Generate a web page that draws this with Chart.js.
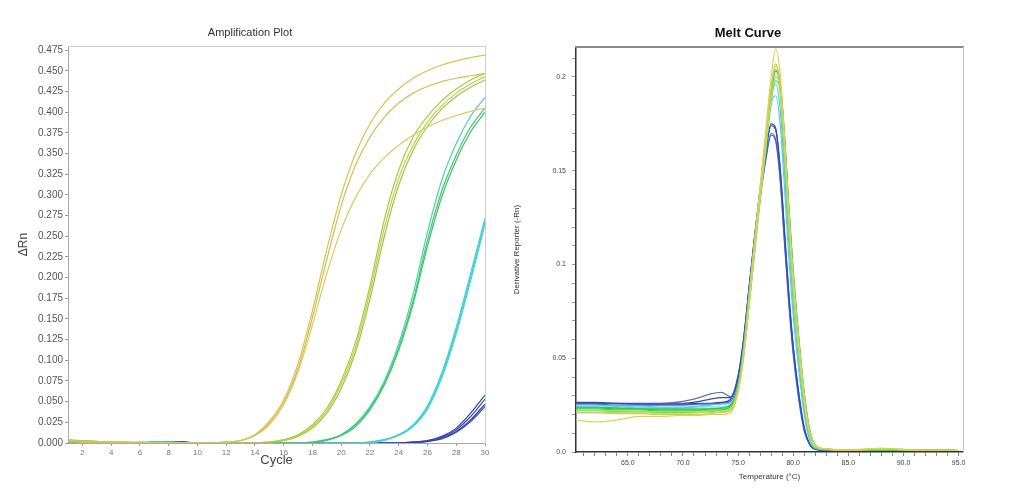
<!DOCTYPE html>
<html>
<head>
<meta charset="utf-8">
<title>Amplification Plot / Melt Curve</title>
<script src="https://cdn.jsdelivr.net/npm/chart.js@4.4.1/dist/chart.umd.min.js"></script>
<style>
  body { margin: 0; background: #fff; }
  #amp { position: absolute; left: 0; top: 0; width: 500px; height: 491px; }
  #melt { position: absolute; left: 480px; top: 0; width: 536px; height: 491px; }
</style>
</head>
<body>
<div id="amp"><canvas id="ampChart"></canvas></div>
<div id="melt"><canvas id="meltChart"></canvas></div>
<script>
// ---- amplification plot data (delta Rn per cycle)
const cycles = [1,2,3,4,5,6,7,8,9,10,11,12,13,14,15,16,17,18,19,20,21,22,23,24,25,26,27,28,29,30];

const ampY1 = [0.003,0.002,0.001,0.001,0.001,0.001,0,0,0,0,0,0.001,0.003,0.010,0.026,0.052,0.096,0.160,0.234,0.300,0.350,0.386,0.411,0.428,0.441,0.450,0.457,0.462,0.466,0.469];
const ampY2 = [0.002,0.002,0.001,0.001,0.001,0,0,0,0,0,0,0.001,0.003,0.009,0.024,0.049,0.090,0.152,0.222,0.287,0.336,0.370,0.394,0.411,0.423,0.431,0.437,0.441,0.444,0.447];
const ampY3 = [0.002,0.001,0.001,0.001,0,0,0,0,0,0,0,0.001,0.003,0.009,0.022,0.046,0.086,0.143,0.205,0.258,0.297,0.325,0.345,0.360,0.372,0.382,0.390,0.396,0.401,0.405];
const ampYG1 = [0.004,0.003,0.002,0.001,0.001,0,0,0,0,0,0,0,0,0,0.001,0.004,0.010,0.022,0.042,0.075,0.122,0.190,0.270,0.330,0.370,0.395,0.414,0.428,0.439,0.447];
const ampYG2 = [0.003,0.003,0.002,0.001,0.001,0,0,0,0,0,0,0,0,0,0.001,0.003,0.009,0.020,0.039,0.071,0.116,0.182,0.260,0.320,0.360,0.388,0.408,0.423,0.434,0.443];
const ampYG3 = [0.002,0.002,0.001,0.001,0,0,0,0,0,0,0,0,0,0,0.001,0.003,0.008,0.018,0.036,0.066,0.110,0.174,0.250,0.312,0.354,0.383,0.404,0.419,0.430,0.439];
const ampG1 = [0,0,0,0,0,0,0.001,0.001,0,0,0,0,0,0,0,0,0,0.001,0.004,0.010,0.022,0.042,0.072,0.115,0.172,0.245,0.305,0.348,0.382,0.405];
const ampG2 = [0,0,0,0,0,0,0.001,0,0,0,0,0,0,0,0,0,0,0.001,0.004,0.010,0.023,0.044,0.075,0.120,0.180,0.255,0.318,0.362,0.395,0.418];
const ampG3 = [0,0,0,0,0,0,0,0,0,0,0,0,0,0,0,0,0,0,0.003,0.009,0.020,0.040,0.070,0.112,0.168,0.238,0.298,0.342,0.376,0.400];
const ampC1 = [0,0,0,0,0,0.001,0.001,0.001,0,0,0,0,0,0,0,0,0,0,0,0,0,0.001,0.004,0.010,0.022,0.045,0.085,0.140,0.205,0.272];
const ampC2 = [0,0,0,0,0,0,0.001,0.001,0,0,0,0,0,0,0,0,0,0,0,0,0,0.001,0.004,0.010,0.021,0.043,0.082,0.136,0.200,0.268];
const ampC3 = [0,0,0,0,0,0,0,0.001,0,0,0,0,0,0,0,0,0,0,0,0,0,0,0.003,0.009,0.020,0.041,0.079,0.132,0.196,0.265];
const ampB1 = [0,0,0,0,0,0,0,0.001,0.001,0,0,0,0,0,0,0,0,0,0,0,0,0,0,0,0.001,0.003,0.008,0.018,0.036,0.058];
const ampB2 = [0,0,0,0,0,0,0,0.001,0.001,0,0,0,0,0,0,0,0,0,0,0,0,0,0,0,0.001,0.003,0.007,0.016,0.032,0.053];
const ampB3 = [0,0,0,0,0,0,0,0,0.001,0,0,0,0,0,0,0,0,0,0,0,0,0,0,0,0.001,0.002,0.006,0.014,0.028,0.047];
const ampB4 = [0,0,0,0,0,0,0,0,0.001,0,0,0,0,0,0,0,0,0,0,0,0,0,0,0,0,0.002,0.005,0.013,0.026,0.044];

// ---- melt curve data (derivative reporter per temperature)
const meltTemps = [60.3,62,64,66,68,70,71.5,72.5,73.5,74.3,75,75.5,76,76.5,77,77.5,78,78.4,78.8,79.2,79.6,80,80.5,81,81.5,82,83,85,88,91,95];

const meltY1 = [0.017,0.016,0.017,0.019,0.019,0.0195,0.0195,0.020,0.020,0.021,0.032,0.051,0.081,0.112,0.142,0.171,0.200,0.215,0.203,0.168,0.126,0.090,0.056,0.027,0.009,0.003,0.0015,0.0012,0.002,0.001,0.0008];
const meltY2 = [0.021,0.021,0.0205,0.0205,0.020,0.020,0.020,0.0205,0.021,0.022,0.033,0.052,0.080,0.110,0.139,0.167,0.194,0.206,0.196,0.163,0.123,0.089,0.056,0.028,0.010,0.003,0.0015,0.001,0.002,0.001,0.0008];
const meltYG1 = [0.022,0.022,0.022,0.0215,0.0215,0.0215,0.0215,0.022,0.022,0.023,0.034,0.053,0.082,0.111,0.140,0.168,0.195,0.207,0.197,0.164,0.124,0.090,0.057,0.029,0.010,0.003,0.0015,0.001,0.0015,0.001,0.0008];
const meltYG2 = [0.021,0.021,0.021,0.021,0.0205,0.0205,0.021,0.021,0.0215,0.022,0.032,0.050,0.078,0.107,0.135,0.162,0.188,0.200,0.195,0.166,0.128,0.094,0.060,0.031,0.011,0.004,0.0015,0.001,0.0015,0.001,0.0008];
const meltG1 = [0.023,0.023,0.0225,0.0225,0.022,0.022,0.022,0.0222,0.0225,0.024,0.035,0.054,0.083,0.112,0.140,0.166,0.192,0.204,0.194,0.160,0.120,0.087,0.055,0.027,0.009,0.003,0.0015,0.001,0.001,0.001,0.0008];
const meltG2 = [0.024,0.024,0.0235,0.023,0.023,0.023,0.023,0.023,0.0235,0.025,0.034,0.052,0.079,0.108,0.136,0.163,0.189,0.200,0.196,0.170,0.132,0.097,0.062,0.032,0.012,0.004,0.0015,0.001,0.001,0.001,0.0008];
const meltG3 = [0.022,0.022,0.0215,0.0215,0.021,0.021,0.021,0.0215,0.022,0.023,0.033,0.051,0.078,0.106,0.134,0.160,0.186,0.198,0.193,0.165,0.127,0.093,0.059,0.030,0.011,0.003,0.0015,0.001,0.001,0.001,0.0008];
const meltG4 = [0.0235,0.0235,0.023,0.023,0.0225,0.0225,0.0225,0.023,0.023,0.0245,0.035,0.053,0.081,0.110,0.138,0.165,0.191,0.203,0.198,0.170,0.130,0.095,0.060,0.030,0.011,0.003,0.0015,0.001,0.001,0.001,0.0008];
const meltC1 = [0.024,0.024,0.024,0.0235,0.0235,0.0235,0.024,0.024,0.024,0.025,0.035,0.055,0.084,0.113,0.141,0.166,0.190,0.196,0.184,0.150,0.111,0.079,0.048,0.022,0.007,0.002,0.0012,0.001,0.001,0.001,0.0008];
const meltC2 = [0.025,0.025,0.0245,0.0245,0.024,0.024,0.0245,0.025,0.0255,0.026,0.036,0.056,0.085,0.113,0.140,0.164,0.186,0.190,0.176,0.142,0.104,0.073,0.044,0.020,0.006,0.002,0.0012,0.001,0.001,0.001,0.0008];
const meltB1 = [0.026,0.026,0.026,0.0255,0.0255,0.0255,0.026,0.026,0.0265,0.028,0.040,0.060,0.088,0.115,0.140,0.160,0.174,0.172,0.152,0.118,0.084,0.056,0.031,0.013,0.004,0.0015,0.001,0.001,0.001,0.001,0.0008];
const meltB2 = [0.0255,0.0255,0.025,0.025,0.025,0.025,0.0255,0.0255,0.026,0.027,0.038,0.058,0.085,0.111,0.135,0.155,0.169,0.166,0.146,0.112,0.079,0.052,0.028,0.011,0.004,0.0015,0.001,0.001,0.001,0.001,0.0008];
const meltS1 = [0.026,0.026,0.0258,0.0256,0.0258,0.027,0.029,0.031,0.0318,0.0295,0.041,0.060,0.087,0.113,0.137,0.157,0.170,0.167,0.148,0.114,0.081,0.054,0.030,0.012,0.004,0.0015,0.001,0.001,0.001,0.001,0.0008];
const meltS2 = [0.0265,0.0265,0.026,0.026,0.026,0.026,0.027,0.0282,0.029,0.029,0.040,0.060,0.088,0.115,0.140,0.161,0.175,0.173,0.153,0.119,0.085,0.057,0.032,0.013,0.004,0.0015,0.001,0.001,0.001,0.001,0.0008];

Chart.defaults.font.family = "'Liberation Sans', Arial, sans-serif";
Chart.defaults.color = '#555';

// turn one series into a line dataset
const makeLine = function (xs, ys, color, width) {
  return {
    data: xs.map((x, i) => ({ x: x, y: ys[i] })),
    borderColor: color,
    borderWidth: width,
    pointRadius: 0,
    fill: false,
    cubicInterpolationMode: 'monotone',
  };
};

// a scale used only to draw a frame edge
const frameEdge = function (position, color, lineWidth, size) {
  return {
    type: 'linear',
    position: position,
    display: true,
    grid: { drawOnChartArea: false, drawTicks: false },
    ticks: { display: false },
    border: { display: true, color: color, width: lineWidth },
    afterFit: (s) => {
      if (position === 'top') s.height = size;
      else s.width = size;
    },
  };
};

// =============================================
// Amplification plot
const ampSeries = [
  [ampY1, '#d9c24e'], [ampY2, '#d4bc55'], [ampY3, '#dcc860'],
  [ampYG1, '#a9cc3e'], [ampYG2, '#b4d24a'], [ampYG3, '#9cc640'],
  [ampG1, '#3ec86e'], [ampG2, '#4ccfb4'], [ampG3, '#38c466'],
  [ampC1, '#3fd2d4'], [ampC2, '#44cad8'], [ampC3, '#3ad8cc'],
  [ampB1, '#3444b0'], [ampB2, '#3a4cb8'], [ampB3, '#2f3ea4'], [ampB4, '#4050b4'],
];

new Chart(document.getElementById('ampChart'), {
  type: 'line',
  data: { datasets: ampSeries.map((s) => makeLine(cycles, s[0], s[1], 1.2)) },
  options: {
    responsive: true,
    maintainAspectRatio: false,
    animation: false,
    layout: { padding: { top: 0, right: 0, bottom: 0, left: 0 } },
    plugins: {
      legend: { display: false },
      tooltip: { enabled: false },
      title: {
        display: true,
        text: 'Amplification Plot',
        color: '#333',
        font: { size: 11, weight: 'normal' },
        padding: { top: 26.4, bottom: 6.4 },
      },
    },
    scales: {
      x: {
        type: 'linear',
        min: 1,
        max: 30,
        grid: {
          drawOnChartArea: false,
          tickLength: 3,
          tickColor: (ctx) => (ctx.tick && ctx.tick.value % 2 === 0 ? '#999' : 'rgba(0,0,0,0)'),
        },
        border: { color: '#aaa', width: 1 },
        ticks: {
          stepSize: 1,
          autoSkip: false,
          maxRotation: 0,
          padding: 2,
          color: '#777',
          font: { size: 8 },
          callback: (v) => (v % 2 === 0 ? String(v) : ''),
        },
        title: { display: true, text: 'Cycle', color: '#444', font: { size: 13 }, padding: { top: 0, bottom: 23 } },
        afterFit: (s) => { s.height = 48; },
      },
      y: {
        type: 'linear',
        min: 0,
        max: 0.48,
        grid: { drawOnChartArea: false, tickLength: 3, tickColor: '#999' },
        border: { color: '#aaa', width: 1 },
        ticks: {
          stepSize: 0.025,
          includeBounds: false,
          autoSkip: false,
          padding: 2,
          color: '#555',
          font: { size: 10 },
          callback: (v) => v.toFixed(3),
        },
        title: { display: true, text: 'ΔRn', color: '#444', font: { size: 12 }, padding: { top: 16.8, bottom: 0 } },
        afterFit: (s) => { s.width = 68; },
      },
      x2: frameEdge('top', '#cfcfcf', 1, 0),
      y2: frameEdge('right', '#cfcfcf', 1, 15),
    },
  },
});

// =============================================
// Melt curve
const meltSeries = [
  [meltY1, '#e4d04c'], [meltY2, '#d8c46c'],
  [meltYG1, '#b4dc3c'], [meltYG2, '#c2e25c'],
  [meltG1, '#34d45c'], [meltG2, '#2cc852'], [meltG3, '#56e070'], [meltG4, '#24c268'],
  [meltC1, '#44d8cc'], [meltC2, '#64c6e6'],
  [meltB1, '#2a4ac2'], [meltB2, '#4a66cc'], [meltS1, '#6870a4'], [meltS2, '#3a4a9c'],
];

new Chart(document.getElementById('meltChart'), {
  type: 'line',
  data: { datasets: meltSeries.map((s) => makeLine(meltTemps, s[0], s[1], 1.2)) },
  options: {
    responsive: true,
    maintainAspectRatio: false,
    animation: false,
    layout: { padding: { top: 0, right: 0, bottom: 0, left: 0 } },
    plugins: {
      legend: { display: false },
      tooltip: { enabled: false },
      title: {
        display: true,
        text: 'Melt Curve',
        color: '#111',
        font: { size: 13, weight: 'bold' },
        padding: { top: 25.2, bottom: 6.2 },
      },
    },
    scales: {
      x: {
        type: 'linear',
        min: 60.3,
        max: 95.4,
        grid: { drawOnChartArea: false, tickLength: 4, tickColor: '#888' },
        border: { color: '#333', width: 1.5 },
        ticks: {
          stepSize: 1,
          includeBounds: false,
          autoSkip: false,
          maxRotation: 0,
          padding: 3,
          color: '#444',
          font: { size: 7 },
          callback: (v) => (Math.abs(v % 5) < 1e-6 ? v.toFixed(1) : ''),
        },
        title: { display: true, text: 'Temperature (°C)', color: '#333', font: { size: 8 }, padding: { top: 0, bottom: 9 } },
        afterFit: (s) => { s.height = 39; },
      },
      y: {
        type: 'linear',
        min: 0,
        max: 0.216,
        grid: { drawOnChartArea: false, tickLength: 4, tickColor: '#999' },
        border: { color: '#333', width: 1.5 },
        ticks: {
          stepSize: 0.01,
          includeBounds: false,
          autoSkip: false,
          padding: 6,
          color: '#444',
          font: { size: 7 },
          callback: (v) => {
            if (Math.abs(v * 20 - Math.round(v * 20)) > 1e-6) return '';
            return v === 0 ? '0.0' : String(+v.toFixed(2));
          },
        },
        title: { display: true, text: 'Derivative Reporter (-Rn)', color: '#333', font: { size: 8 }, padding: { top: 32, bottom: 0 } },
        afterFit: (s) => { s.width = 96; },
      },
      x2: frameEdge('top', '#8a8a8a', 2, 0),
      y2: frameEdge('right', '#c8c8c8', 1, 53),
    },
  },
});
</script>
</body>
</html>
